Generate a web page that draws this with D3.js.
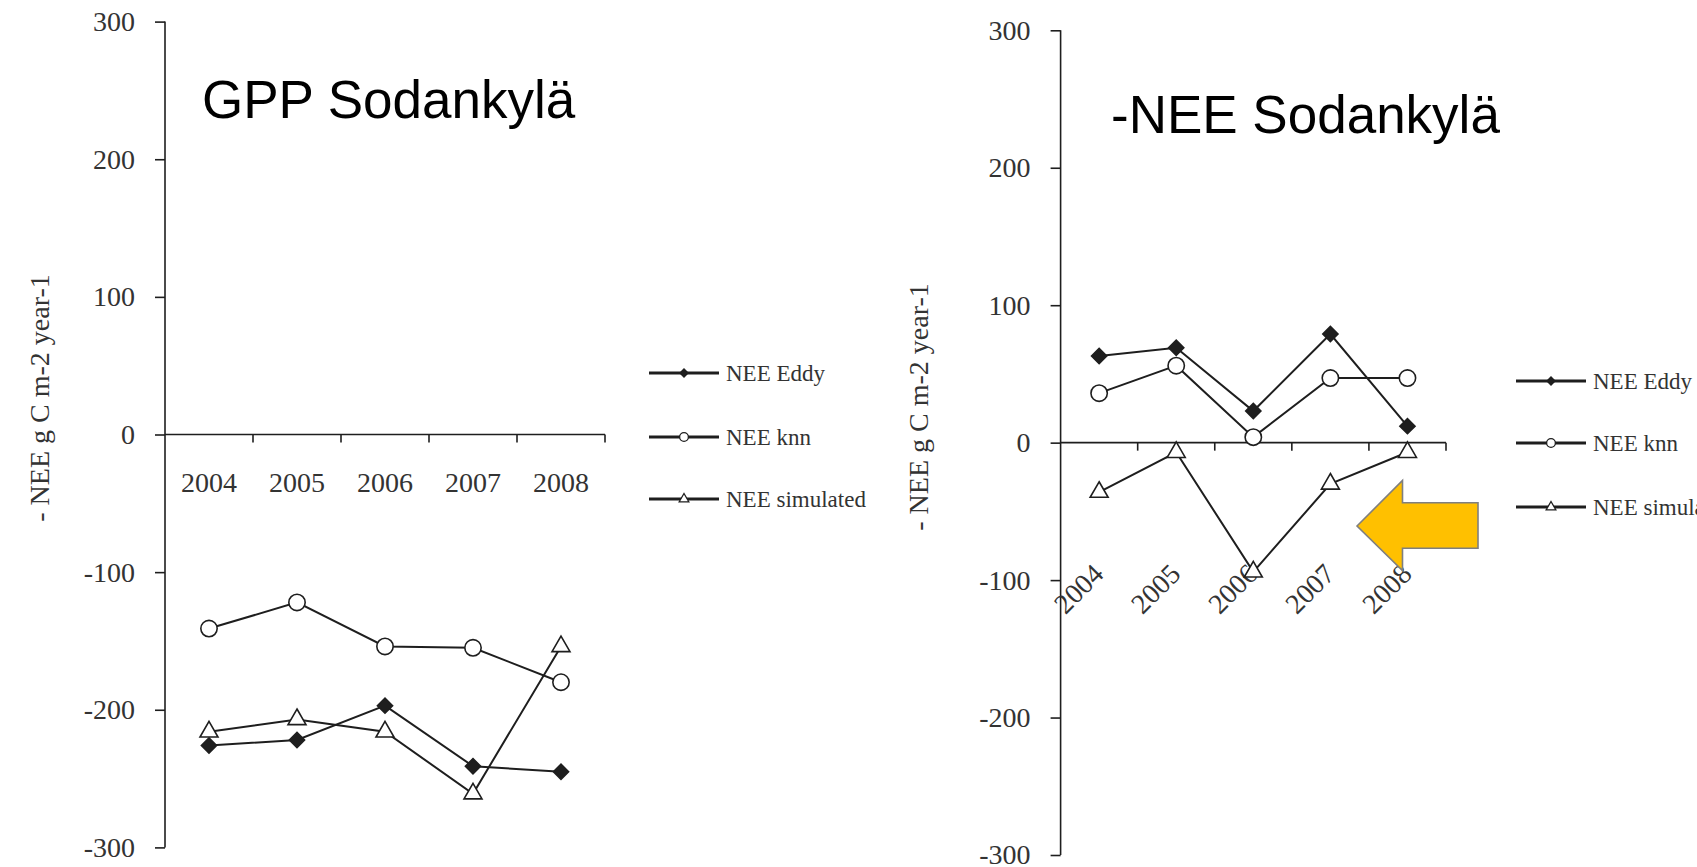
<!DOCTYPE html>
<html>
<head>
<meta charset="utf-8">
<script src="https://cdn.jsdelivr.net/npm/d3@7"></script>
<style>
  body { margin: 0; background: #fff; overflow: hidden; }
</style>
</head>
<body>
<div id="chart"></div>
<script>
// data
const years = ['2004', '2005', '2006', '2007', '2008'];
const yTicks = [300, 200, 100, 0, -100, -200, -300];
const seriesNames = ['NEE Eddy', 'NEE knn', 'NEE simulated'];

const gppEddy = [-226, -222, -197, -241, -245];
const gppKnn = [-141, -122, -154, -155, -180];
const gppSim = [-216, -207, -216, -261, -154];

const neeEddy = [63, 69, 23, 79, 12];
const neeKnn = [36, 56, 4, 47, 47];
const neeSim = [-36, -7, -94, -30, -7];

const serif = '"Liberation Serif", "Times New Roman", serif';
const sans = '"Liberation Sans", Arial, sans-serif';
const ink = '#1e1e1e';

const svg = d3.select('#chart').append('svg')
    .attr('width', 1697)
    .attr('height', 867);

// marker shapes
const markerPath = {
    'NEE Eddy': (s) => d3.symbol(d3.symbolSquare, s)(),
    'NEE knn': (s) => d3.symbol(d3.symbolCircle, s)(),
    'NEE simulated': (s) => d3.symbol(d3.symbolTriangle, s)()
};
const markerRot = { 'NEE Eddy': 45, 'NEE knn': 0, 'NEE simulated': 0 };
const markerFill = { 'NEE Eddy': ink, 'NEE knn': '#fff', 'NEE simulated': '#fff' };
const markerSize = { 'NEE Eddy': 115, 'NEE knn': 210, 'NEE simulated': 140 };

function drawPanel(p) {
    const g = svg.append('g');

    const x = d3.scaleBand().domain(years).range([p.x0, p.x1]);
    const y = d3.scaleLinear().domain([-300, 300]).range([p.yBot, p.yTop]);

    // y axis
    const yAxis = g.append('g')
        .attr('transform', `translate(${p.x0},0)`)
        .call(d3.axisLeft(y).tickValues(yTicks).tickSize(10).tickPadding(20)
            .tickFormat(d => String(d)));
    yAxis.select('.domain').attr('stroke', ink).attr('stroke-width', 1.6)
        .attr('d', `M0,${p.yBot}V${p.yTop}`);
    yAxis.selectAll('.tick line').attr('stroke', ink).attr('stroke-width', 1.6);
    yAxis.selectAll('.tick text')
        .attr('font-family', serif).attr('font-size', 28).attr('fill', '#333');

    // x axis at zero, ticks on band edges
    const y0 = y(0);
    g.append('line')
        .attr('x1', p.x0).attr('x2', p.x1).attr('y1', y0).attr('y2', y0)
        .attr('stroke', ink).attr('stroke-width', 1.6);
    const edges = years.slice(1).map(d => x(d)).concat([x.range()[1]]);
    g.selectAll('.xtick').data(edges).join('line')
        .attr('x1', d => d).attr('x2', d => d)
        .attr('y1', y0).attr('y2', y0 + 8)
        .attr('stroke', ink).attr('stroke-width', 1.6);

    const cx = d => x(d) + x.bandwidth() / 2;

    if (p.rotate) {
        g.selectAll('.xlab').data(years).join('text')
            .attr('transform', d => `translate(${cx(d) + 6},${y0 + 133}) rotate(-45)`)
            .attr('text-anchor', 'end')
            .attr('font-family', serif).attr('font-size', 28).attr('fill', '#333')
            .text(d => d);
    } else {
        g.selectAll('.xlab').data(years).join('text')
            .attr('x', d => cx(d)).attr('y', y0 + 57)
            .attr('text-anchor', 'middle')
            .attr('font-family', serif).attr('font-size', 28).attr('fill', '#333')
            .text(d => d);
    }

    // y title
    g.append('text')
        .attr('transform', `translate(${p.labelX},${p.labelY}) rotate(-90)`)
        .attr('text-anchor', 'middle')
        .attr('font-family', serif).attr('font-size', 28).attr('fill', '#333')
        .text('- NEE g C m-2 year-1');

    // chart title
    g.append('text')
        .attr('x', p.titleX).attr('y', p.titleY)
        .attr('font-family', sans).attr('font-size', 53).attr('fill', '#000')
        .text(p.title);

    const series = seriesNames.map((name, i) => ({ name, values: p.values[i] }));

    const line = d3.line().x((d, i) => cx(years[i])).y(d => y(d));
    g.selectAll('.series').data(series).join('path')
        .attr('d', s => line(s.values))
        .attr('fill', 'none').attr('stroke', ink).attr('stroke-width', 2);

    series.forEach(s => {
        g.selectAll(null).data(s.values).join('path')
            .attr('d', markerPath[s.name](markerSize[s.name]))
            .attr('transform', (d, i) => `translate(${cx(years[i])},${y(d)}) rotate(${markerRot[s.name]})`)
            .attr('fill', markerFill[s.name])
            .attr('stroke', ink).attr('stroke-width', 1.6);
    });

    // legend
    const lg = g.append('g');
    const rows = lg.selectAll('g').data(seriesNames).join('g')
        .attr('transform', (d, i) => `translate(${p.legX},${p.legY[i]})`);
    rows.append('line')
        .attr('x1', 0).attr('x2', 70).attr('y1', 0).attr('y2', 0)
        .attr('stroke', ink).attr('stroke-width', 3);
    rows.append('path')
        .attr('d', d => markerPath[d](markerSize[d] / 3.5))
        .attr('transform', d => `translate(35,0) rotate(${markerRot[d]})`)
        .attr('fill', d => markerFill[d])
        .attr('stroke', ink).attr('stroke-width', 1.3);
    rows.append('text')
        .attr('x', 77).attr('y', 0).attr('dy', '0.33em')
        .attr('font-family', serif).attr('font-size', 23).attr('fill', '#333')
        .text(d => d);

    return { x, y };
}

drawPanel({
    x0: 165, x1: 605, yTop: 21.6, yBot: 847.4,
    title: 'GPP Sodankylä', titleX: 202, titleY: 118,
    labelX: 49, labelY: 398,
    legX: 649, legY: [373, 437, 499],
    values: [gppEddy, gppKnn, gppSim],
    rotate: false
});

drawPanel({
    x0: 1060.6, x1: 1446, yTop: 30.3, yBot: 855,
    title: '-NEE Sodankylä', titleX: 1111, titleY: 133,
    labelX: 928, labelY: 407,
    legX: 1516, legY: [381, 443, 507],
    values: [neeEddy, neeKnn, neeSim],
    rotate: true
});

// yellow block arrow pointing left
const arrow = [
    [1357, 526], [1402.5, 480.5], [1402.5, 502.7], [1478, 502.7],
    [1478, 548.3], [1402.5, 548.3], [1402.5, 570.5]
];
svg.append('path')
    .attr('d', d3.line()(arrow) + 'Z')
    .attr('fill', '#FFC000')
    .attr('stroke', '#7f7f7f')
    .attr('stroke-width', 1.6);
</script>
</body>
</html>
